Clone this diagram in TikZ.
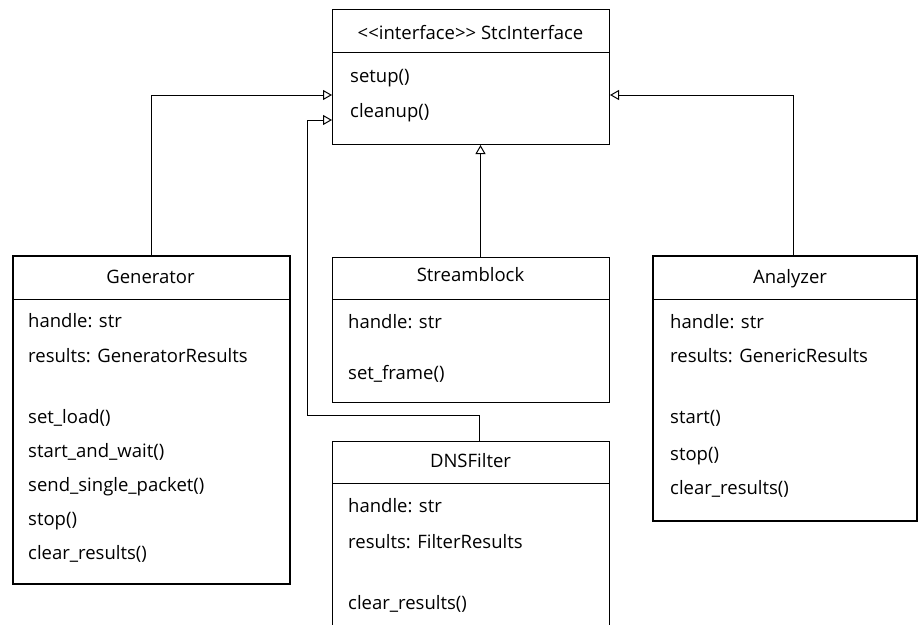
\documentclass[tikz,border=0pt]{standalone}
\usepackage{fontspec}
\setmainfont{Open Sans}
\usetikzlibrary{arrows.meta}
\tikzset{
  cls/.style={draw, line width=1pt, anchor=north west, inner sep=0pt, minimum width=277pt},
  clsbold/.style={cls, line width=1.6pt},
  txt/.style={inner sep=0pt, text height=13pt, text depth=4pt, font=\fontsize{18.5}{21}\selectfont},
  mem/.style={txt, anchor=west},
  inh/.style={draw, line width=1pt, -{Triangle[open, length=9pt, width=10pt]}},
}
\begin{document}
\begin{tikzpicture}[x=1pt,y=-1pt]
\useasboundingbox (0,0) rectangle (920,624);
\clip (0,0) rectangle (920,624);

% interface
\node[cls, minimum height=135pt] (iface) at (332,9) {};
\draw[line width=1pt] (iface.west |- 0,52) -- (iface.east |- 0,52);
\node[txt] (iface-t) at (470.5,35) {<\kern0pt<interface>\kern0pt> StcInterface};
\node[mem] (iface-m1) at (350,78) {setup()};
\node[mem] (iface-m2) at (350,113) {cleanup()};

% Generator
\node[clsbold, minimum height=328pt] (gen) at (12,255) {};
\draw[line width=1pt] (gen.west |- 0,299) -- (gen.east |- 0,299);
\node[txt] (gen-t) at (150.5,279) {Generator};
\node[mem] (gen-a1) at (28,323) {handle: str};
\node[mem] (gen-a2) at (28,358) {results: GeneratorResults};
\node[mem] (gen-m1) at (28,419) {set\_load()};
\node[mem] (gen-m2) at (28,453) {start\_and\_wait()};
\node[mem] (gen-m3) at (28,487) {send\_single\_packet()};
\node[mem] (gen-m4) at (28,521) {stop()};
\node[mem] (gen-m5) at (28,555) {clear\_results()};

% Streamblock
\node[cls, minimum height=145pt] (sb) at (332,257) {};
\draw[line width=1pt] (sb.west |- 0,299) -- (sb.east |- 0,299);
\node[txt] (sb-t) at (470.5,277) {Streamblock};
\node[mem] (sb-a1) at (348,324) {handle: str};
\node[mem] (sb-m1) at (348,375) {set\_frame()};

% DNSFilter
\node[cls, minimum height=200pt] (dns) at (332,441) {};
\draw[line width=1pt] (dns.west |- 0,483) -- (dns.east |- 0,483);
\node[txt] (dns-t) at (470.5,463) {DNSFilter};
\node[mem] (dns-a1) at (348,508) {handle: str};
\node[mem] (dns-a2) at (348,544) {results: FilterResults};
\node[mem] (dns-m1) at (348,605) {clear\_results()};

% Analyzer
\node[clsbold, minimum width=264pt, minimum height=265pt] (ana) at (652,255) {};
\draw[line width=1pt] (ana.west |- 0,299) -- (ana.east |- 0,299);
\node[txt] (ana-t) at (790,279) {Analyzer};
\node[mem] (ana-a1) at (670,324) {handle: str};
\node[mem] (ana-a2) at (670,358) {results: GenericResults};
\node[mem] (ana-m1) at (670,419) {start()};
\node[mem] (ana-m2) at (670,456) {stop()};
\node[mem] (ana-m3) at (670,490) {clear\_results()};

% generalisation connectors
\coordinate (gen-top) at (gen.north);
\coordinate (ana-top) at ([xshift=9pt]ana.north);
\coordinate (sb-top) at ([xshift=9.5pt]sb.north);
\coordinate (dns-top) at ([xshift=8.5pt]dns.north);
\coordinate (iface-l1) at ([yshift=-86pt]iface.north west);
\coordinate (iface-l2) at ([yshift=-111pt]iface.north west);
\coordinate (iface-r1) at ([yshift=-86pt]iface.north east);
\coordinate (dns-bend) at ([yshift=26pt]dns-top);
\coordinate (dns-bend2) at (307,415);

\draw[inh] (gen-top) |- (iface-l1);
\draw[inh] (ana-top) |- (iface-r1);
\draw[inh] (sb-top) -- (sb-top |- iface.south);
\draw[inh] (dns-top) -- (dns-bend) -- (dns-bend2) |- (iface-l2);
\end{tikzpicture}
\end{document}
